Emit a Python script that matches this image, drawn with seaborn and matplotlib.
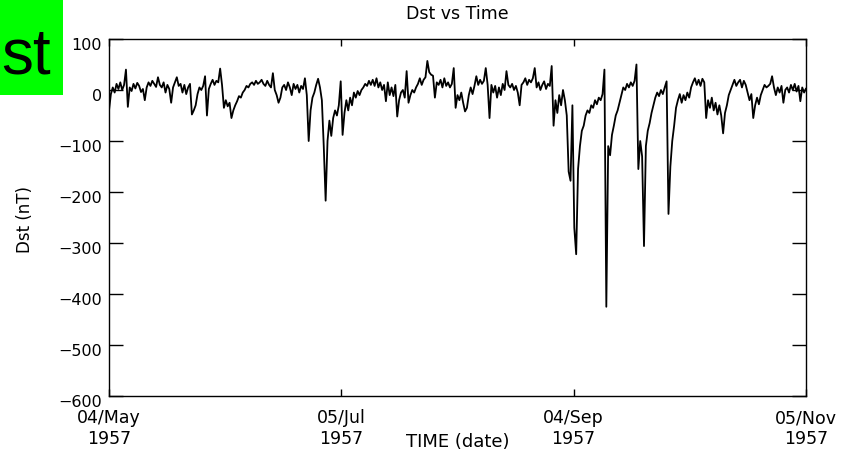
import numpy as np
import pandas as pd
import matplotlib
matplotlib.use("Agg")
import matplotlib.pyplot as plt
from matplotlib.patches import Rectangle
from matplotlib.transforms import ScaledTranslation
import seaborn as sns

# Hourly Dst index resampled to 12-hour readings, 04 May 1957 -> 05 Nov 1957
span_days = 185
step_days = 0.5
tick_labels = ["04/May\n1957", "05/Jul\n1957", "04/Sep\n1957", "05/Nov\n1957"]
y_ticks = [100, 0, -100, -200, -300, -400, -500, -600]

dst = [
    -40, -8, 5, -5, 12, 2, 15, 0, 10, 40,
    -33, 5, -2, 12, 3, 14, 8, -4, 2, -20,
    5, 15, 8, 18, 12, 6, 25, 10, 5, 15,
    -5, 10, 2, -25, 5, 15, 25, 8, 12, -5,
    10, -8, 5, 12, -48, -40, -30, -8, 5, 0,
    8, 27, -50, 2, 12, 20, 10, 18, 15, 42,
    10, -35, -20, -32, -25, -55, -40, -30, -22, -12,
    -15, -5, 0, 8, 5, 12, 15, 10, 18, 12,
    15, 20, 12, 8, 18, 10, 5, 33, 0, -10,
    -25, -15, 5, 10, 0, 15, 5, -10, 12, 2,
    10, -5, 8, 2, 23, -10, -100, -40, -15, -5,
    10, 22, 5, -20, -110, -217, -100, -60, -90, -55,
    -40, -50, -30, 17, -88, -45, -20, -40, -15, -30,
    -5, -15, -2, -10, 0, 5, 12, 8, 18, 10,
    20, 8, 23, 5, 15, 0, 10, -22, 15, -10,
    5, -12, 10, -52, -20, -5, 0, -15, 37, -25,
    -10, 0, -5, 5, 12, 23, 10, 20, 25, 57,
    35, 30, 28, -15, 15, 10, 20, 5, 23, 8,
    15, 5, 12, 43, -35, -10, -20, -5, -25, -42,
    -35, -10, 5, -8, 8, 27, 10, 20, 12, 18,
    43, 10, -55, 10, -5, 8, -15, 5, -10, 12,
    0, 37, 10, 5, 12, 0, 8, -5, -30, 10,
    15, 23, 10, 20, 15, 23, 43, 5, 15, 0,
    10, 17, 2, 12, 8, 47, -70, -20, -45, -10,
    -30, 0, -20, -50, -160, -178, -30, -270, -322, -155,
    -110, -80, -70, -50, -40, -45, -30, -35, -20, -28,
    -15, -20, -8, 40, -425, -110, -128, -88, -70, -50,
    -40, -25, -10, 5, 0, 12, 5, 15, 8, 18,
    50, -155, -100, -130, -306, -110, -80, -65, -45, -30,
    -15, -5, -12, 0, -8, 5, 17, -243, -150, -100,
    -70, -35, -20, -8, -25, -10, -20, -5, -15, 5,
    15, 23, 10, 20, 8, 22, 15, -55, -20, -35,
    -15, -40, -25, -48, -30, -50, -85, -45, -30, -10,
    0, 10, 20, 8, 15, 20, 5, 18, 10, -5,
    -20, -8, -55, -30, -15, -28, -10, 0, 10, 5,
    8, 12, 27, 5, -10, 5, -5, 8, -25, 0,
    5, -5, 10, 0, 12, -3, 8, -22, 5, -5,
    3,
]

days = np.arange(len(dst)) * step_days
df = pd.DataFrame({"day": days, "dst": dst})

sns.set_theme(style="white")
plt.rcParams["font.family"] = ["DejaVu Sans"]
plt.rcParams["text.color"] = "black"
plt.rcParams["xtick.color"] = "black"
plt.rcParams["ytick.color"] = "black"

W, H = 844, 460
fig = plt.figure(figsize=(W / 100, H / 100), dpi=100)
fig.patch.set_facecolor("white")

ax_l, ax_r, ax_t, ax_b = 109, 806, 40, 397
ax = fig.add_axes([ax_l / W, 1 - ax_b / H, (ax_r - ax_l) / W, (ax_b - ax_t) / H])

sns.lineplot(data=df, x="day", y="dst", ax=ax, color="black",
             linewidth=1.3, estimator=None, errorbar=None)

ax.set_xlim(0, span_days)
ax.set_ylim(-600, 100)
ax.set_xticks(np.linspace(0, span_days, len(tick_labels)))
ax.set_xticklabels(tick_labels, fontsize=12.5, linespacing=1.15)
ax.set_yticks(y_ticks)
ax.set_yticklabels([f"{v:d}".replace("-", "\u2212") for v in y_ticks], fontsize=11.5)

ax.set_xlabel("")
ax.set_ylabel("")
for s in ax.spines.values():
    s.set_color("black")
    s.set_linewidth(1.0)
    s.set_visible(True)

ax.tick_params(axis="y", which="major", direction="in", length=10, width=1.0,
               left=True, right=True, color="black", pad=5, labelcolor="black")
ax.tick_params(axis="x", which="major", direction="in", length=5, width=1.0,
               bottom=True, top=True, color="black", pad=9, labelcolor="black")

# IDL-style label placement: y labels sit slightly below their ticks
for lab in ax.get_yticklabels():
    lab.set_transform(lab.get_transform() + ScaledTranslation(0, -4 / 100, fig.dpi_scale_trans))

fig.text(457.5 / W, 1 - 14 / H, "Dst vs Time", ha="center", va="center",
         fontsize=12.5, color="black")
fig.text(458 / W, 1 - 442 / H, "TIME (date)", ha="center", va="center",
         fontsize=13, color="black")
fig.text(25 / W, 1 - 220 / H, "Dst (nT)", ha="center", va="center",
         rotation=90, fontsize=12, color="black")

# Panel tag in the corner
fig.patches.append(Rectangle((0, 1 - 96 / H), 63 / W, 96 / H, transform=fig.transFigure,
                             facecolor="#00ff00", edgecolor="none", zorder=5))
fig.text(1 / W, 1 - 73 / H, "st", ha="left", va="baseline", fontsize=46,
         family="Liberation Sans", color="black", zorder=6)

fig.savefig("out.png", dpi=100)
